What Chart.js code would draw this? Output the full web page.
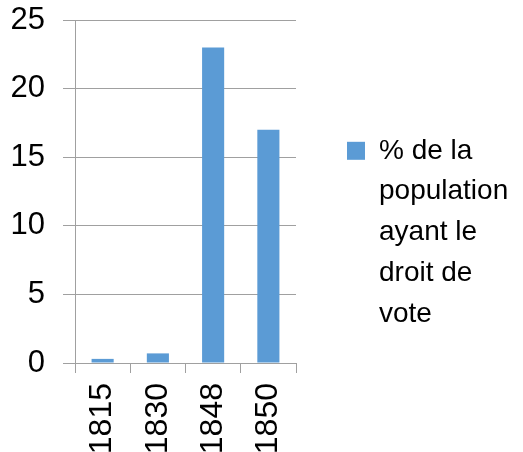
<!DOCTYPE html>
<html>
<head>
<meta charset="utf-8">
<script src="https://cdn.jsdelivr.net/npm/chart.js@4"></script>
<style>
    body { margin: 0; background: #fff; }
    #wrap { width: 523px; height: 452px; }
</style>
</head>
<body>
<div id="wrap"><canvas id="grafico" width="523" height="452"></canvas></div>
<script>
// data
const annees = ["1815", "1830", "1848", "1850"];
const pourcentages = [0.3, 0.7, 23, 17];
const legende = ["% de la", "population", "ayant le", "droit de", "vote"];
const ticksY = [0, 5, 10, 15, 20, 25];

const FONT = "'Liberation Sans', Arial, sans-serif";
const GRIS = "#a0a0a0";

// la légende calcule mal sa largeur avec un texte sur plusieurs lignes
const legendeLarge = {
    id: "legendeLarge",
    beforeLayout(chart) {
        const lg = chart.legend;
        if (lg && !lg._elargie) {
            const fit = lg.fit;
            lg.fit = function () {
                fit.call(this);
                this.width = 227;
            };
            lg._elargie = true;
        }
    },
    afterLayout(chart) {
        // petit décalage vertical, comme dans l'original
        const lg = chart.legend;
        if (lg) {
            lg.top += 3;
            lg.bottom += 3;
        }
    }
};

new Chart(document.getElementById("grafico"), {
    type: "bar",
    data: {
        labels: annees,
        datasets: [{
            label: legende.join(" "),
            data: pourcentages,
            backgroundColor: "#5b9bd5",
            barPercentage: 0.4,
            categoryPercentage: 1
        }]
    },
    plugins: [legendeLarge],
    options: {
        responsive: false,
        animation: false,
        layout: { padding: { top: 20, right: 0, bottom: 0, left: 0 } },
        plugins: {
            tooltip: { enabled: false },
            legend: {
                position: "right",
                align: "center",
                labels: {
                    color: "#000",
                    boxWidth: 18,
                    boxHeight: 18,
                    padding: 51,
                    font: { family: FONT, size: 28, lineHeight: 1.46 },
                    generateLabels: chart => [{
                        text: legende,
                        fillStyle: "#5b9bd5",
                        strokeStyle: "#5b9bd5",
                        lineWidth: 0,
                        datasetIndex: 0
                    }]
                }
            }
        },
        scales: {
            x: {
                afterFit: s => { s.height = 89; },
                grid: {
                    offset: true,
                    drawOnChartArea: false,
                    drawTicks: true,
                    tickLength: 10,
                    color: GRIS
                },
                border: { color: GRIS },
                ticks: {
                    minRotation: 90,
                    maxRotation: 90,
                    padding: 10,
                    color: "#000",
                    font: { family: FONT, size: 32 }
                }
            },
            y: {
                min: 0,
                max: 25,
                afterFit: s => {
                    s.width = 75;
                    s.paddingTop = 0;
                    s.paddingBottom = 0;
                },
                afterBuildTicks: s => { s.ticks = ticksY.map(v => ({ value: v })); },
                grid: { color: GRIS, tickLength: 12 },
                border: { color: GRIS },
                ticks: {
                    padding: 18,
                    color: "#000",
                    font: { family: FONT, size: 31 }
                }
            }
        }
    }
});
</script>
</body>
</html>
